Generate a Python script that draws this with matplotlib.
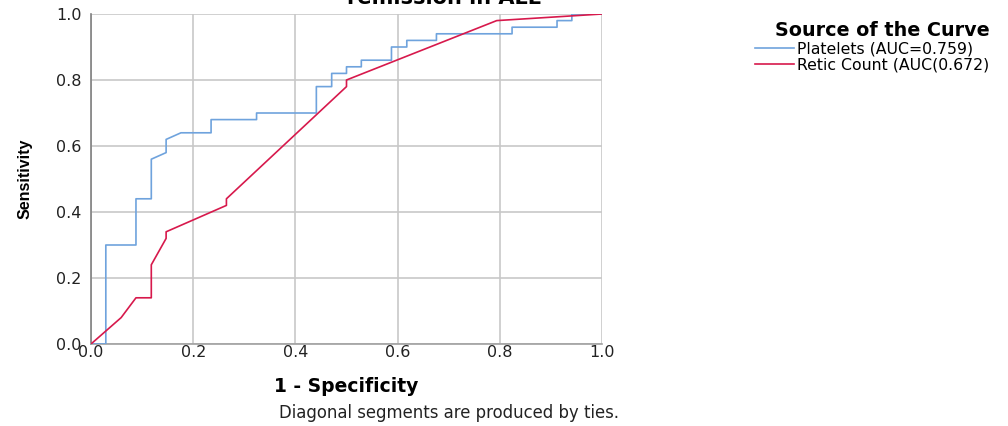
import matplotlib
matplotlib.use("Agg")
import matplotlib.pyplot as plt
from matplotlib.lines import Line2D

# ROC curve points (1 - specificity, sensitivity)
plt_fpr = [0, 0.029, 0.029, 0.088, 0.088, 0.118, 0.118, 0.147, 0.147, 0.176,
           0.235, 0.235, 0.324, 0.324, 0.441, 0.441, 0.471, 0.471, 0.5, 0.5,
           0.529, 0.529, 0.588, 0.588, 0.618, 0.618, 0.676, 0.676, 0.824,
           0.824, 0.912, 0.912, 0.941, 0.941, 1.0]
plt_tpr = [0, 0, 0.30, 0.30, 0.44, 0.44, 0.56, 0.58, 0.62, 0.64,
           0.64, 0.68, 0.68, 0.70, 0.70, 0.78, 0.78, 0.82, 0.82, 0.84,
           0.84, 0.86, 0.86, 0.90, 0.90, 0.92, 0.92, 0.94, 0.94,
           0.96, 0.96, 0.98, 0.98, 1.0, 1.0]

ret_fpr = [0, 0.059, 0.088, 0.118, 0.118, 0.147, 0.147, 0.265, 0.265,
           0.5, 0.5, 0.794, 1.0]
ret_tpr = [0, 0.08, 0.14, 0.14, 0.24, 0.32, 0.34, 0.42, 0.44,
           0.78, 0.80, 0.98, 1.0]

labels = ["Platelets (AUC=0.759)", "Retic Count (AUC(0.672)"]
ticks = [0.0, 0.2, 0.4, 0.6, 0.8, 1.0]

blue = '#6fa3dd'
red = '#d7194c'

fig = plt.figure(figsize=(10.08, 4.26), dpi=100)
ax = fig.add_axes([91 / 1008, 82 / 426, 511 / 1008, 330 / 426])

ax.plot(plt_fpr, plt_tpr, color=blue, lw=1.2, zorder=3)
ax.plot(ret_fpr, ret_tpr, color=red, lw=1.2, zorder=3)

ax.set_xlim(0, 1)
ax.set_ylim(0, 1)
ax.set_xticks(ticks)
ax.set_yticks(ticks)
ax.set_xticklabels([f"{t:.1f}" for t in ticks])
ax.set_yticklabels([f"{t:.1f}" for t in ticks])
ax.tick_params(length=0, labelsize=11.5, colors='#222222')
ax.tick_params(axis='x', pad=1)
ax.tick_params(axis='y', pad=7)
ax.grid(True, color='#c8c8c8', lw=1.2)
ax.set_axisbelow(True)
for side in ['top', 'right']:
    ax.spines[side].set_visible(False)
ax.spines['left'].set_color('#808080')
ax.spines['bottom'].set_color('#a0a0a0')
ax.spines['left'].set_linewidth(1.2)
ax.spines['bottom'].set_linewidth(1.2)

ax.set_xlabel('1 - Specificity', fontsize=13.5, fontweight='bold', labelpad=12)
ax.set_ylabel('Sensitivity', fontsize=11.5, fontweight='bold',
              family=['Liberation Sans', 'DejaVu Sans'], labelpad=17)

# title, mostly cut off at the top
fig.text(444 / 1008, 1 - 4 / 426, 'remission in ALL', fontsize=15,
         fontweight='bold', ha='center', va='baseline')

fig.text(449 / 1008, 1 - 413 / 426, 'Diagonal segments are produced by ties.',
         fontsize=11.9, ha='center', va='center', color='#222222')

handles = [Line2D([], [], color=blue, lw=1.2), Line2D([], [], color=red, lw=1.2)]
leg = fig.legend(handles, labels, loc='upper left',
                 bbox_to_anchor=(750 / 1008, 1 - 16 / 426), frameon=False,
                 title='Source of the Curve', fontsize=11.3,
                 handlelength=2.5, handletextpad=0.2, labelspacing=0.1,
                 borderaxespad=0, borderpad=0.3,
                 title_fontproperties={'weight': 'bold', 'size': 13.8})
leg._legend_box.align = 'right'

fig.savefig('out.png', dpi=100)
